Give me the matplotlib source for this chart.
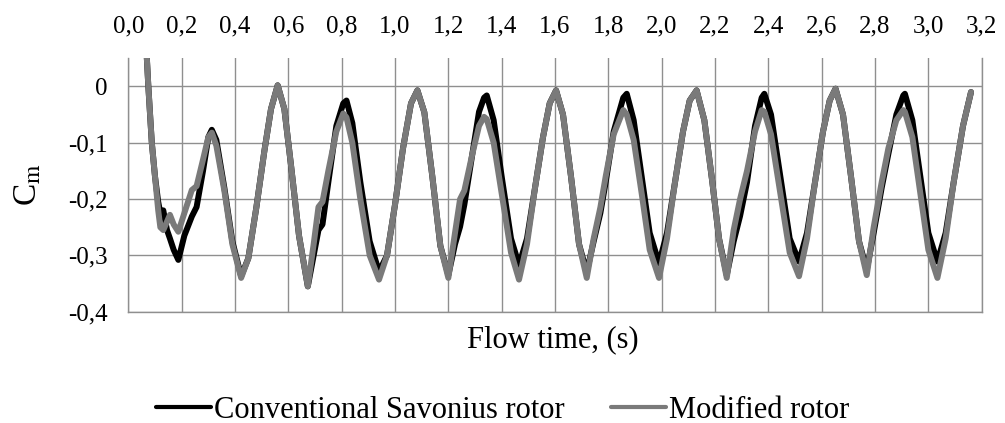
import matplotlib
matplotlib.use('Agg')
import matplotlib.pyplot as plt

# ---------- DATA ----------
t = [0.065, 0.075, 0.088, 0.100, 0.112, 0.120, 0.131, 0.145, 0.156, 0.170, 0.1875, 0.210, 0.238, 0.256, 0.280, 0.300,
     0.313, 0.330, 0.360, 0.390, 0.423, 0.450, 0.480, 0.510, 0.535, 0.560, 0.585, 0.610, 0.640, 0.673,
     0.695, 0.713, 0.728, 0.750, 0.780, 0.806, 0.818, 0.840, 0.870, 0.905, 0.940,
     0.970, 1.000, 1.030, 1.060, 1.084, 1.110, 1.140, 1.170, 1.200,
     1.225, 1.244, 1.260, 1.290, 1.315, 1.334, 1.344, 1.370, 1.400, 1.435, 1.465,
     1.495, 1.525, 1.555, 1.580, 1.604, 1.630, 1.660, 1.690, 1.719,
     1.745, 1.770, 1.790, 1.820, 1.856, 1.869, 1.895, 1.925, 1.955, 1.990,
     2.020, 2.050, 2.080, 2.105, 2.131, 2.160, 2.190, 2.215, 2.244,
     2.270, 2.294, 2.320, 2.350, 2.375, 2.385, 2.410, 2.445, 2.480, 2.515,
     2.545, 2.575, 2.605, 2.630, 2.652, 2.680, 2.710, 2.740, 2.769,
     2.795, 2.825, 2.850, 2.880, 2.906, 2.912, 2.940, 2.970, 3.000, 3.034,
     3.065, 3.095, 3.130, 3.160]

conv = [0.09, 0.0, -0.10, -0.16, -0.205, -0.225, -0.22, -0.255, -0.27, -0.29, -0.308, -0.265, -0.231, -0.214, -0.15, -0.09,
        -0.077, -0.095, -0.18, -0.275, -0.337, -0.305, -0.215, -0.115, -0.04, 0.002, -0.04, -0.14, -0.265, -0.355,
        -0.30, -0.255, -0.245, -0.17, -0.07, -0.03, -0.025, -0.065, -0.17, -0.275, -0.329,
        -0.30, -0.21, -0.11, -0.03, -0.007, -0.046, -0.16, -0.283, -0.335,
        -0.28, -0.249, -0.21, -0.12, -0.045, -0.02, -0.016, -0.06, -0.16, -0.27, -0.317,
        -0.27, -0.18, -0.09, -0.03, -0.007, -0.05, -0.16, -0.28, -0.33,
        -0.275, -0.225, -0.17, -0.08, -0.02, -0.013, -0.06, -0.16, -0.26, -0.314,
        -0.26, -0.17, -0.08, -0.025, -0.007, -0.06, -0.17, -0.27, -0.335,
        -0.275, -0.23, -0.17, -0.07, -0.02, -0.013, -0.05, -0.16, -0.27, -0.311,
        -0.26, -0.17, -0.08, -0.025, -0.004, -0.05, -0.16, -0.275, -0.326,
        -0.26, -0.18, -0.12, -0.05, -0.016, -0.013, -0.06, -0.16, -0.26, -0.311,
        -0.26, -0.17, -0.07, -0.01]

mod = [0.09, 0.0, -0.10, -0.16, -0.22, -0.25, -0.255, -0.24, -0.228, -0.245, -0.258, -0.225, -0.184, -0.177, -0.13, -0.09,
       -0.082, -0.105, -0.185, -0.28, -0.34, -0.305, -0.215, -0.115, -0.04, 0.002, -0.04, -0.14, -0.265, -0.355,
       -0.28, -0.214, -0.205, -0.15, -0.08, -0.048, -0.055, -0.10, -0.20, -0.30, -0.343,
       -0.30, -0.21, -0.11, -0.03, -0.007, -0.046, -0.16, -0.283, -0.34,
       -0.26, -0.20, -0.185, -0.12, -0.07, -0.054, -0.058, -0.10, -0.19, -0.295, -0.343,
       -0.28, -0.18, -0.09, -0.03, -0.007, -0.05, -0.16, -0.28, -0.34,
       -0.27, -0.215, -0.16, -0.085, -0.042, -0.05, -0.095, -0.19, -0.29, -0.34,
       -0.27, -0.17, -0.08, -0.025, -0.007, -0.06, -0.17, -0.27, -0.34,
       -0.255, -0.20, -0.15, -0.08, -0.042, -0.045, -0.085, -0.19, -0.295, -0.337,
       -0.27, -0.17, -0.08, -0.025, -0.004, -0.05, -0.16, -0.275, -0.335,
       -0.25, -0.17, -0.11, -0.06, -0.042, -0.045, -0.09, -0.19, -0.29, -0.34,
       -0.27, -0.17, -0.07, -0.01]

x_ticks = [0.0, 0.2, 0.4, 0.6, 0.8, 1.0, 1.2, 1.4, 1.6, 1.8, 2.0, 2.2, 2.4, 2.6, 2.8, 3.0, 3.2]
x_labels = ['0,0', '0,2', '0,4', '0,6', '0,8', '1,0', '1,2', '1,4', '1,6', '1,8',
            '2,0', '2,2', '2,4', '2,6', '2,8', '3,0', '3,2']
y_ticks = [-0.4, -0.3, -0.2, -0.1, 0.0]
y_labels = ['-0,4', '-0,3', '-0,2', '-0,1', '0']

# ---------- PLOT ----------
plt.rcParams['font.family'] = 'Liberation Serif'
plt.rcParams['mathtext.fontset'] = 'stix'

fig = plt.figure(figsize=(10.05, 4.23), dpi=100)
ax = fig.add_axes([0.1277, 0.2631, 0.8491, 0.5991])

ax.plot(t, conv, color='black', lw=4.3, solid_capstyle='round', solid_joinstyle='round',
        label='Conventional Savonius rotor')
ax.plot(t, mod, color='#7a7a7a', lw=4.3, solid_capstyle='round', solid_joinstyle='round',
        label='Modified rotor')

ax.set_xlim(0, 3.2)
ax.set_ylim(-0.4, 0.05)
ax.set_xticks(x_ticks)
ax.set_xticklabels(x_labels)
ax.set_yticks(y_ticks)
ax.set_yticklabels(y_labels)
ax.xaxis.tick_top()
ax.tick_params(length=0, labelsize=18, pad=15)

ax.grid(True, color='#8f8f8f', lw=1.0)
ax.set_axisbelow(True)
ax.spines['top'].set_visible(False)
for s in ['left', 'right', 'bottom']:
    ax.spines[s].set_color('#8f8f8f')
    ax.spines[s].set_linewidth(1.0)

ax.set_ylabel(r'C$_\mathrm{m}$', fontsize=24, va='center')
ax.yaxis.set_label_coords(-0.1175, 0.5)

fig.text(0.5498, 0.196, 'Flow time, (s)', ha='center', va='center', fontsize=22)

leg = fig.legend(loc='center', bbox_to_anchor=(0.5, 0.03), ncol=2, frameon=False,
                 fontsize=22, handlelength=1.8, handletextpad=0.1, columnspacing=1.5)
for line in leg.get_lines():
    line.set_linewidth(3.0)

fig.savefig('out.png', dpi=100)
